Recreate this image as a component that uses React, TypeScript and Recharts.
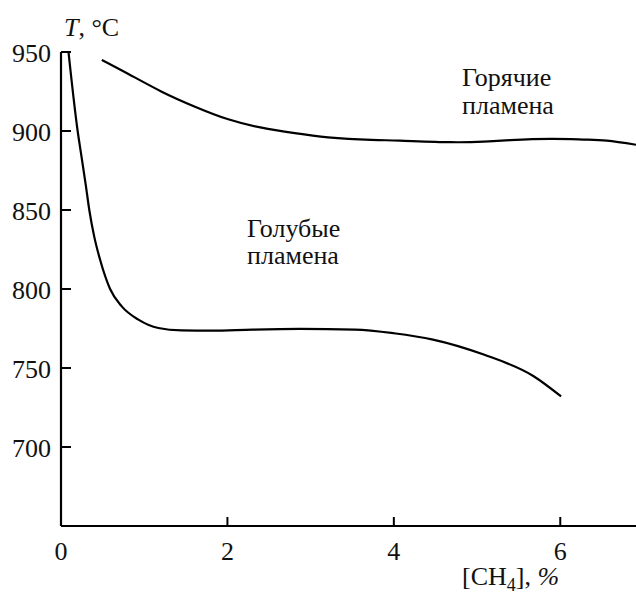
import { LineChart, Line, XAxis, YAxis } from "recharts";

// [CH4], % vs T, °C
const hotX = [0.49, 0.81, 1.21, 1.61, 2.01, 2.41, 2.81, 3.21, 3.73, 4.07, 4.68, 5.08, 5.4, 5.88, 6.28, 6.56, 6.91];
const hotT = [945, 936.1, 924.9, 915.4, 907.4, 902.1, 898.6, 896, 894.4, 893.9, 892.9, 893.3, 894.2, 895, 894.6, 893.9, 891.3];

const blueX = [0.09, 0.2, 0.24, 0.3, 0.34, 0.4, 0.47, 0.59, 0.73, 0.93, 1.17, 1.45, 1.81, 2.3, 2.87, 3.53, 4.0, 4.47, 5.08, 5.68, 6.01];
const blueT = [950, 900, 886, 865, 850, 833, 818.5, 800, 789, 780.6, 775.3, 773.8, 773.6, 774.3, 774.7, 774.3, 772, 768, 758.5, 744.8, 732];

const xTicks = [0, 2, 4, 6];
const yTicks = [700, 750, 800, 850, 900, 950];

const hot = hotX.map((x, i) => ({ x, t: hotT[i] }));
const blue = blueX.map((x, i) => ({ x, t: blueT[i] }));

const FONT = '"Liberation Serif", "DejaVu Serif", serif';
const txt = { fontFamily: FONT, fontSize: 26 };

const YTick = ({ x, y, payload }: any) => (
  <g>
    <line x1={x} x2={x + 10} y1={y} y2={y} stroke="#000" strokeWidth={2} />
    <text x={x - 10} y={y + 9.5} textAnchor="end" style={txt} fill="#111">
      {payload.value}
    </text>
  </g>
);

const XTick = ({ x, y, payload }: any) => (
  <g>
    <line x1={x} x2={x} y1={y} y2={y - 9} stroke="#000" strokeWidth={2} />
    <text x={x} y={y + 34} textAnchor="middle" style={txt} fill="#111">
      {payload.value}
    </text>
  </g>
);

export default function App() {
  return (
    <div style={{ position: "absolute", left: 0, top: 0, width: 636, height: 594, background: "#fff" }}>
      <LineChart width={636} height={594} margin={{ top: 52, right: 0, bottom: 0, left: 0 }}>
        <XAxis
          type="number"
          dataKey="x"
          domain={[0, 6.91]}
          allowDataOverflow
          ticks={xTicks}
          height={68}
          tickSize={0}
          tickMargin={0}
          tickLine={false}
          axisLine={{ stroke: "#000", strokeWidth: 2.2 }}
          tick={<XTick />}
          interval={0}
        />
        <YAxis
          type="number"
          dataKey="t"
          domain={[650, 950]}
          allowDataOverflow
          ticks={yTicks}
          width={61}
          tickSize={0}
          tickMargin={0}
          tickLine={false}
          axisLine={{ stroke: "#000", strokeWidth: 2.2 }}
          tick={<YTick />}
          interval={0}
        />
        <Line data={hot} dataKey="t" type="natural" stroke="#000" strokeWidth={2.2} dot={false} isAnimationActive={false} />
        <Line data={blue} dataKey="t" type="monotone" stroke="#000" strokeWidth={2.2} dot={false} isAnimationActive={false} />
      </LineChart>
      <svg width={636} height={594} style={{ position: "absolute", left: 0, top: 0, pointerEvents: "none" }}>
        <g style={txt} fill="#111">
          <text x={64} y={36}>
            <tspan fontStyle="italic">T</tspan>, °C
          </text>
          <text x={462} y={86}>Горячие</text>
          <text x={462} y={114}>пламена</text>
          <text x={247} y={237}>Голубые</text>
          <text x={247} y={264}>пламена</text>
          <text x={462} y={585}>
            [CH<tspan style={{ fontSize: 18 }} dy={6}>4</tspan>
            <tspan dy={-6}>], </tspan>
            <tspan fontStyle="italic">%</tspan>
          </text>
        </g>
      </svg>
    </div>
  );
}
